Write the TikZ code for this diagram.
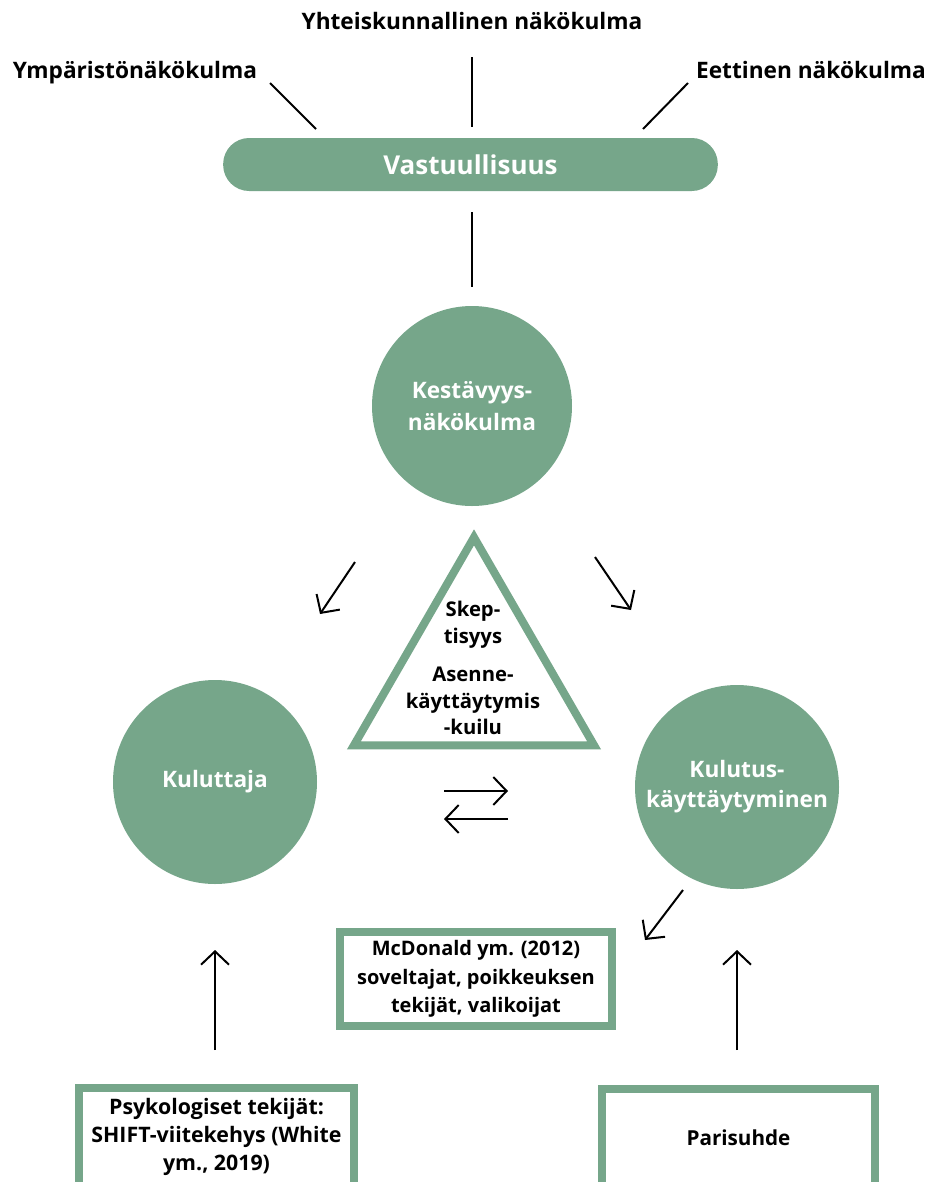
\documentclass[tikz,border=0pt]{standalone}
\usepackage{fontspec}
\setmainfont{Open Sans}
\usetikzlibrary{arrows.meta,shapes.geometric}

\definecolor{vihrea}{HTML}{76A68A}

\begin{document}
\begin{tikzpicture}[x=0.75pt,y=-0.75pt,
    otsikko/.style={font=\fontsize{17}{20}\selectfont\bfseries, anchor=base},
    pilleri/.style={fill=vihrea, rounded corners=19.5pt, minimum width=371pt,
                    minimum height=39.75pt, text=white,
                    font=\fontsize{19.5}{23}\selectfont\bfseries},
    ympyra/.style={circle, fill=vihrea, text=white, align=center,
                   font=\fontsize{17}{23.5}\selectfont\bfseries},
    laatikko/.style={draw=vihrea, line width=6pt, fill=white, align=center,
                     font=\fontsize{15}{21.5}\selectfont\bfseries},
    kolmioteksti/.style={align=center, font=\fontsize{15.2}{20}\selectfont\bfseries},
    viiva/.style={line width=1.5pt},
    nuoli/.style={line width=1.5pt, -{Straight Barb[length=10pt,width=21pt]}}
  ]
  % tausta ja rajat
  \fill[white] (0,0) rectangle (930,1182);
  \useasboundingbox (0,0) rectangle (930,1182);

  % Otsikot ylhaalla
  \node[otsikko] (yht) at (472,29) {Yhteiskunnallinen näkökulma};
  \node[otsikko] (ymp) at (135,78) {Ympäristönäkökulma};
  \node[otsikko] (eet) at (811,78) {Eettinen näkökulma};

  % Vastuullisuus
  \node[pilleri] (vast) at (470.5,164.5) {Vastuullisuus};

  % Ympyrat
  \node[ympyra, minimum size=150pt] (kest) at (472,406) {Kestävyys-\\näkökulma};
  \node[ympyra, minimum size=153pt] (kul) at (215,782) {Kuluttaja};
  \node[ympyra, minimum size=153pt, font=\fontsize{17}{22.5}\selectfont\bfseries] (kay) at (737,787) {Kulutus-\\käyttäytyminen};

  % Kolmio
  \node[regular polygon, regular polygon sides=3, draw=vihrea, line width=6pt,
        fill=white, minimum size=208pt] (kolmio) at (474,676) {};
  \node[kolmioteksti] (skep) at (473,625) {Skep-\\tisyys};
  \node[kolmioteksti] (kuilu) at (473,701) {Asenne-\\käyttäytymis\\-kuilu};

  % Laatikot
  \node[laatikko, minimum width=204pt, minimum height=70.5pt] (mcd) at (476,979) {McDonald ym. (2012)\\soveltajat, poikkeuksen\\tekijät, valikoijat};
  \node[laatikko, minimum width=206pt, minimum height=73pt,
        font=\fontsize{16}{21}\selectfont\bfseries] (psyk) at (216.5,1137) {Psykologiset tekijät:\\SHIFT-viitekehys (White\\ym., 2019)};
  \node[laatikko, minimum width=205pt, minimum height=73pt,
        font=\fontsize{15.5}{21}\selectfont\bfseries] (pari) at (738.5,1138) {Parisuhde};

  % Vapaat paat
  \coordinate (ympA) at (270,83);   \coordinate (ympB) at (316,129);
  \coordinate (yhtA) at (472,57);   \coordinate (yhtB) at (472,127);
  \coordinate (eetA) at (688,83);   \coordinate (eetB) at (643,129);
  \coordinate (vastA) at (472,212); \coordinate (vastB) at (472,287);
  \coordinate (vasA) at (355,562);  \coordinate (vasB) at (320,614);
  \coordinate (oikA) at (595,557);  \coordinate (oikB) at (631,610);
  \coordinate (edA) at (444,791);   \coordinate (edB) at (508,791);
  \coordinate (takA) at (508,819);  \coordinate (takB) at (444,819);
  \coordinate (mcdA) at (683,890);  \coordinate (mcdB) at (645,940);
  \coordinate (psykA) at (215,1050); \coordinate (psykB) at (215,950);
  \coordinate (pariA) at (737,1050); \coordinate (pariB) at (737,950);

  % Viivat
  \draw[viiva] (ympA) -- (ympB);
  \draw[viiva] (yhtA) -- (yhtB);
  \draw[viiva] (eetA) -- (eetB);
  \draw[viiva] (vastA) -- (vastB);

  % Nuolet
  \draw[nuoli] (vasA) -- (vasB);
  \draw[nuoli] (oikA) -- (oikB);
  \draw[nuoli] (edA) -- (edB);
  \draw[nuoli] (takA) -- (takB);
  \draw[nuoli] (mcdA) -- (mcdB);
  \draw[nuoli] (psykA) -- (psykB);
  \draw[nuoli] (pariA) -- (pariB);
\end{tikzpicture}
\end{document}
